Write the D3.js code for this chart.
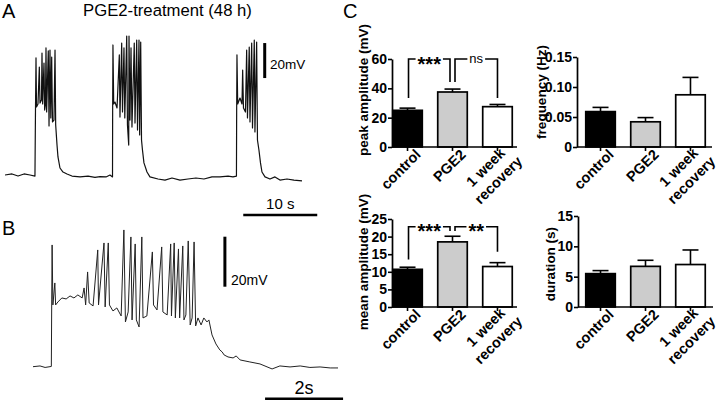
<!DOCTYPE html>
<html><head><meta charset="utf-8">
<script src="https://cdn.jsdelivr.net/npm/d3@7"></script>
<style>body{margin:0;background:#fff} svg{display:block}</style>
</head><body>
<svg id="c" width="720" height="400"></svg>
<script>
// ---------- DATA ----------
const categories = ["control", "PGE2", "1 week\nrecovery"];
const barFills = ["#000000", "#cccccc", "#ffffff"];

const peakAmp = [25, 37.5, 27.5];
const peakAmpErr = [1.5, 2.0, 1.5];
const peakTicks = [0, 20, 40, 60];

const frequency = [0.059, 0.042, 0.087];
const frequencyErr = [0.007, 0.007, 0.029];
const freqTicks = [0, 0.05, 0.10, 0.15];
const freqTickLabels = ["0", "0.05", "0.10", "0.15"];

const meanAmp = [10.7, 18.5, 11.5];
const meanAmpErr = [0.6, 1.6, 1.1];
const meanTicks = [0, 5, 10, 15, 20, 25];

const duration = [5.5, 6.7, 7.0];
const durationErr = [0.5, 1.0, 2.4];
const durTicks = [0, 5, 10, 15];

// significance brackets: [from, to, label, top, leftLegEnd, rightLegEnd] (data units)
const peakSig = [[0, 1, "***", 60, 33.4, 44.3], [1, 2, "ns", 60, 44.3, 33.4]];
const meanSig = [[0, 1, "***", 22.8, 13.5, 21.6], [1, 2, "**", 22.8, 21.6, 15.7]];

// trace A: [time (s), membrane potential (mV, relative to rest)]
const traceA = [
 [0,0],[0.95,0.6],[1.76,-0.6],[2.57,0.6],[3.38,0],[4.05,-0.6],
 [4.12,37.1],[4.19,66.9],[4.26,38.9],[4.46,40.6],[4.64,61.7],[4.73,41.1],[4.93,42.9],[5.0,69.7],[5.09,40.6],
 [5.27,64],[5.36,37.1],[5.47,40],[5.54,72.6],[5.63,36],[5.85,70.9],[5.95,28],[6.08,71.4],[6.19,32.6],
 [6.31,67.4],[6.42,30.3],[6.62,31.4],[6.76,71.4],[6.85,28.6],[7.03,17.1],[7.16,10.3],[7.43,4],[7.84,1.7],
 [8.38,0.6],[9.05,-0.6],[10.14,-1.1],[11.22,-0.6],[12.16,-1.4],[12.84,-0.9],[13.65,-1.1],[14.19,0],[14.53,-1.1],
 [14.55,38.3],[14.59,74.3],[14.69,40.6],[14.86,41.7],[15.14,38.3],[15.45,68.6],[15.54,33.1],[15.77,75.4],
 [15.88,36],[16.08,72.6],[16.19,32.6],[16.45,79.4],[16.55,28.6],[16.72,17.1],[16.76,79.4],[16.89,31.4],
 [17.03,72.6],[17.16,27.4],[17.47,75.4],[17.57,29.7],[17.8,77.1],[17.91,25.7],[18.11,77.1],[18.2,22.9],
 [18.34,76],[18.45,20],[18.58,14.3],[18.78,6.9],[19.19,1.7],[19.59,-1.1],
 [20.68,-2.3],[21.62,-2.9],[22.57,-1.7],[23.65,-2.9],[24.73,-2.3],[25.81,-1.7],[26.89,-2.3],[27.97,-1.1],
 [29.05,-1.1],[30.14,-0.6],[30.81,-1.1],[31.28,-0.6],
 [31.31,37.1],[31.35,68.6],[31.45,40.6],[31.76,44],[32.03,40.6],[32.12,60],[32.23,38.3],[32.5,36],
 [32.66,71.4],[32.77,32.6],[33.01,73.1],[33.11,30.3],[33.34,75.4],[33.45,26.9],[33.69,77.1],[33.78,24.6],
 [34.01,76],[34.12,20],[34.32,14.3],[34.53,6.9],[34.73,1.7],[35.14,-1.1],[35.81,-2.3],[36.49,-1.1],
 [37.16,-2.9],[38.11,-2.3],[39.05,-2.9],[40.14,-3.4]
];

// trace B: [time (s), membrane potential (mV, relative to rest)]
const traceB = [
 [0,0],[0.18,0.3],[0.31,-0.3],[0.47,0.1],[0.48,26.7],[0.49,48.7],[0.51,24.7],[0.56,33.5],[0.58,24.7],
 [0.64,25.9],[0.74,27.5],[0.85,27.1],[0.95,28.3],[1.05,27.5],[1.15,28.7],[1.26,27.5],[1.31,31.5],[1.35,24.7],
 [1.4,37.9],[1.44,25.5],[1.54,24.3],[1.66,46.7],[1.68,24.7],[1.82,49.5],[1.85,23.9],[1.93,49.5],[1.96,24.7],
 [2.05,22.3],[2.15,23.5],[2.26,20.3],[2.33,54.7],[2.37,17.9],[2.44,21.9],[2.51,51.9],[2.54,18.7],[2.62,49.1],
 [2.65,18.7],[2.72,15.9],[2.79,51.9],[2.82,19.5],[2.92,20.3],[3.06,45.9],[3.09,24.7],[3.18,22.7],[3.3,47.9],
 [3.33,21.9],[3.44,20.7],[3.53,49.1],[3.55,20.3],[3.62,49.5],[3.65,19.5],[3.73,47.1],[3.76,19.5],[3.84,48.3],
 [3.87,18.7],[3.92,20.7],[3.98,50.3],[4.03,16.7],[4.08,19.5],[4.13,49.9],[4.17,16.3],[4.23,19.5],[4.31,16.7],
 [4.38,19.5],[4.46,17.9],[4.51,18.7],[4.59,12.7],[4.69,9.1],[4.79,6.7],[4.85,5.9],[4.9,4.7],[5.0,3.9],
 [5.13,3.5],[5.21,4.3],[5.31,2.7],[5.56,1.9],[5.82,1.1],[6.13,-0.9],[6.33,0.3],[6.59,-0.1],[6.85,0.3],
 [7.1,-0.3],[7.36,-0.1],[7.62,-0.5],[7.82,-0.5]
];

// ---------- DRAW ----------
const FONT = "'Liberation Sans', Arial, Helvetica, sans-serif";
const svg = d3.select("#c").style("font-family", FONT);

// panel letters & title
svg.append("text").attr("x", 2).attr("y", 18).attr("font-size", 20).text("A");
svg.append("text").attr("x", 2).attr("y", 235).attr("font-size", 20).text("B");
svg.append("text").attr("x", 343).attr("y", 18).attr("font-size", 20).text("C");
svg.append("text").attr("x", 167.5).attr("y", 15.5).attr("font-size", 16.7).attr("text-anchor", "middle").text("PGE2-treatment (48 h)");

const lineGen = (x, y) => d3.line().x(d => x(d[0])).y(d => y(d[1]));

// Panel A trace
const xA = d3.scaleLinear().domain([0, 40.14]).range([5, 302]);
const yA = d3.scaleLinear().domain([0, 80]).range([175, 35]);
svg.append("path").datum(traceA).attr("d", lineGen(xA, yA))
  .attr("fill", "none").attr("stroke", "#111").attr("stroke-width", 1.2).attr("stroke-linejoin", "round");
// scale bars A
svg.append("line").attr("x1", xA(35.1)).attr("x2", xA(35.1)).attr("y1", yA(55.4)).attr("y2", yA(75.4))
  .attr("stroke", "#000").attr("stroke-width", 3);
svg.append("text").attr("x", 270).attr("y", 68.5).attr("font-size", 13.5).text("20mV");
svg.append("line").attr("x1", xA(32.2)).attr("x2", xA(42.2)).attr("y1", 215).attr("y2", 215)
  .attr("stroke", "#000").attr("stroke-width", 2.5);
svg.append("text").attr("x", (xA(32.2) + xA(42.2)) / 2).attr("y", 209).attr("font-size", 15)
  .attr("text-anchor", "middle").text("10 s");

// Panel B trace
const xB = d3.scaleLinear().domain([0, 7.82]).range([33, 338]);
const yB = d3.scaleLinear().domain([0, 50]).range([366.7, 241.7]);
svg.append("path").datum(traceB).attr("d", lineGen(xB, yB))
  .attr("fill", "none").attr("stroke", "#222").attr("stroke-width", 1).attr("stroke-linejoin", "round");
svg.append("line").attr("x1", xB(4.92)).attr("x2", xB(4.92)).attr("y1", yB(32)).attr("y2", yB(52))
  .attr("stroke", "#000").attr("stroke-width", 3);
svg.append("text").attr("x", 231).attr("y", 285).attr("font-size", 14).text("20mV");
svg.append("line").attr("x1", xB(5.95)).attr("x2", xB(7.95)).attr("y1", 399).attr("y2", 399)
  .attr("stroke", "#000").attr("stroke-width", 3);
svg.append("text").attr("x", (xB(5.95) + xB(7.95)) / 2).attr("y", 394).attr("font-size", 18)
  .attr("text-anchor", "middle").text("2s");

// Bar panels
function barPanel(cfg) {
  const g = svg.append("g");
  const y = d3.scaleLinear().domain([cfg.ticks[0], cfg.ticks[cfg.ticks.length - 1]]).range([cfg.y0, cfg.yTop]);
  const x = d3.scaleBand().domain(categories).range([cfg.barStart, cfg.barStart + 121]).paddingInner(0.31).paddingOuter(0);

  // bars
  g.selectAll("rect.bar").data(cfg.values).join("rect")
    .attr("x", (d, i) => x(categories[i]) + 0.75)
    .attr("width", x.bandwidth() - 1.5)
    .attr("y", d => y(d))
    .attr("height", d => cfg.y0 - y(d))
    .attr("fill", (d, i) => barFills[i])
    .attr("stroke", "#000").attr("stroke-width", 1.7);
  // error bars (upper only)
  cfg.values.forEach((v, i) => {
    const cx = x(categories[i]) + x.bandwidth() / 2;
    const top = y(v + cfg.errs[i]);
    g.append("line").attr("x1", cx).attr("x2", cx).attr("y1", y(v)).attr("y2", top).attr("stroke", "#000").attr("stroke-width", 1.6);
    g.append("line").attr("x1", cx - 8).attr("x2", cx + 8).attr("y1", top).attr("y2", top).attr("stroke", "#000").attr("stroke-width", 1.6);
  });

  // y axis
  const ya = g.append("g").attr("transform", `translate(${cfg.axisX},0)`)
    .call(d3.axisLeft(y).tickValues(cfg.ticks).tickSize(4).tickSizeOuter(0)
      .tickFormat((d, i) => cfg.tickLabels ? cfg.tickLabels[i] : d3.format("d")(d)));
  ya.select(".domain").attr("stroke-width", 1.7);
  ya.selectAll(".tick line").attr("stroke-width", 1.6);
  ya.selectAll(".tick text").attr("font-size", 14).attr("font-weight", "bold").attr("font-family", FONT).attr("x", -5).attr("fill", "#000");

  // x axis line + ticks
  g.append("line").attr("x1", cfg.axisX).attr("x2", cfg.axisEnd).attr("y1", cfg.y0).attr("y2", cfg.y0)
    .attr("stroke", "#000").attr("stroke-width", 1.7);
  const xa = g.append("g").attr("transform", `translate(0,${cfg.y0})`)
    .call(d3.axisBottom(x).tickSize(4).tickFormat(""));
  xa.select(".domain").remove();
  xa.selectAll(".tick line").attr("stroke-width", 1.6);

  // category labels
  categories.forEach((c, i) => {
    const cx = x(c) + x.bandwidth() / 2;
    const lines = c.split("\n");
    const t = g.append("text").attr("transform", `translate(${cx},${cfg.y0}) rotate(-45)`)
      .attr("font-size", 14.5).attr("font-weight", "bold").attr("text-anchor", "end");
    if (lines.length === 1) {
      t.append("tspan").attr("x", 4).attr("y", 16).text(lines[0]);
    } else {
      const spans = lines.map((l, k) => t.append("tspan").attr("y", 11 + k * 18).text(l));
      const ws = spans.map(s => s.node().getComputedTextLength());
      const W = Math.max(...ws);
      spans.forEach((s, k) => s.attr("x", 7.5 - (W - ws[k]) / 2));
    }
  });

  // y axis title
  g.append("text").attr("transform", `translate(${cfg.titleX},${cfg.titleY}) rotate(-90)`)
    .attr("text-anchor", "middle").attr("font-size", 13.5).attr("font-weight", "bold").text(cfg.title);

  // significance brackets
  (cfg.sig || []).forEach(s => {
    const [a, b, label, topV, lV, rV] = s;
    const xa0 = x(categories[a]) + x.bandwidth() / 2 + (a === 1 ? 2.5 : 1);
    const xb0 = x(categories[b]) + x.bandwidth() / 2 + (b === 1 ? -2.5 : 0);
    const yt = y(topV);
    g.append("path").attr("d", `M${xa0},${y(lV)}V${yt}H${xb0}V${y(rV)}`)
      .attr("fill", "none").attr("stroke", "#000").attr("stroke-width", 1.6);
    const mid = (xa0 + xb0) / 2;
    const isStar = label.includes("*");
    const fs = isStar ? 20 : 13;
    const bg = g.append("rect");
    const txt = g.append("text").attr("x", mid).attr("y", yt + (isStar ? 11.5 : 3.5))
      .attr("text-anchor", "middle").attr("font-size", fs).attr("font-weight", isStar ? "bold" : "normal").text(label);
    const w = txt.node().getComputedTextLength();
    bg.attr("x", mid - w / 2 - 2).attr("width", w + 4)
      .attr("y", yt - 3).attr("height", 6).attr("fill", "#fff");
  });
}

barPanel({ values: peakAmp, errs: peakAmpErr, ticks: peakTicks, axisX: 392, barStart: 392, axisEnd: 517,
  y0: 147, yTop: 59, title: "peak amplitude (mV)", titleX: 368, titleY: 90, sig: peakSig });
barPanel({ values: frequency, errs: frequencyErr, ticks: freqTicks, tickLabels: freqTickLabels, axisX: 577, barStart: 585, axisEnd: 712,
  y0: 147, yTop: 57, title: "frequency (Hz)", titleX: 546, titleY: 92 });
barPanel({ values: meanAmp, errs: meanAmpErr, ticks: meanTicks, axisX: 392, barStart: 392, axisEnd: 517,
  y0: 307, yTop: 219, title: "mean amplitude (mV)", titleX: 368, titleY: 262, sig: meanSig });
barPanel({ values: duration, errs: durationErr, ticks: durTicks, axisX: 578, barStart: 585, axisEnd: 713,
  y0: 307, yTop: 216, title: "duration (s)", titleX: 555, titleY: 264 });
</script>
</body></html>
